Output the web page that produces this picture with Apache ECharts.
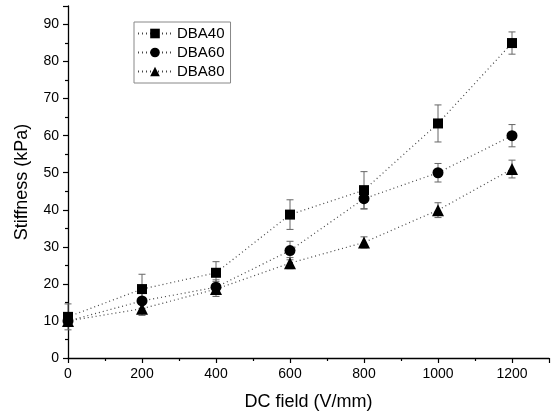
<!DOCTYPE html>
<html>
<head>
<meta charset="utf-8">
<script src="https://cdn.jsdelivr.net/npm/echarts@6/dist/echarts.min.js"></script>
<style>html,body{margin:0;padding:0;background:#fff}#c{width:553px;height:418px}</style>
</head>
<body>
<div id="c"></div>
<script>
const xValues = [0, 200, 400, 600, 800, 1000, 1200];
const dba40 = [11.1, 18.6, 23.0, 38.7, 45.3, 63.3, 85.0];
const err40 = [3.5, 4.0, 3.0, 4.0, 5.0, 5.0, 3.0];
const dba60 = [10.0, 15.4, 19.1, 29.0, 43.0, 50.0, 60.0];
const err60 = [1.5, 2.0, 2.0, 2.5, 2.8, 2.5, 3.0];
const dba80 = [10.0, 13.3, 18.6, 25.6, 31.2, 39.9, 51.0];
const err80 = [1.5, 1.8, 2.0, 1.5, 1.5, 2.0, 2.4];
const seriesNames = ['DBA40', 'DBA60', 'DBA80'];

const FONT = 'Liberation Sans, Arial, sans-serif';

function pts(vals) { return xValues.map((x, i) => [x, vals[i]]); }
function errData(vals, errs) { return xValues.map((x, i) => [x, vals[i] - errs[i], vals[i] + errs[i]]); }

function errRender(params, api) {
  const x = api.value(0);
  const lo = api.coord([x, api.value(1)]);
  const hi = api.coord([x, api.value(2)]);
  const hw = 3.5;
  const style = { stroke: '#666', lineWidth: 1, fill: null };
  return {
    type: 'group',
    children: [
      { type: 'line', shape: { x1: lo[0], y1: lo[1], x2: hi[0], y2: hi[1] }, style },
      { type: 'line', shape: { x1: lo[0] - hw, y1: lo[1], x2: lo[0] + hw, y2: lo[1] }, style },
      { type: 'line', shape: { x1: hi[0] - hw, y1: hi[1], x2: hi[0] + hw, y2: hi[1] }, style }
    ]
  };
}

const symbols = ['rect', 'circle', 'triangle'];
const sizes = [10, 11, 12];
const vals = [dba40, dba60, dba80];
const errs = [err40, err60, err80];

const series = [];
for (let k = 0; k < 3; k++) {
  series.push({
    type: 'custom',
    name: seriesNames[k] + '_err',
    renderItem: errRender,
    data: errData(vals[k], errs[k]),
    z: 1,
    silent: true
  });
}
for (let k = 0; k < 3; k++) {
  series.push({
    type: 'line',
    name: seriesNames[k],
    data: pts(vals[k]),
    symbol: symbols[k],
    symbolSize: sizes[k],
    showSymbol: true,
    itemStyle: { color: '#000' },
    lineStyle: { color: '#444', width: 1.2, type: [1, 3] },
    z: 3,
    animation: false
  });
}

const chart = echarts.init(document.getElementById('c'), null, { renderer: 'canvas' });
chart.setOption({
  animation: false,
  backgroundColor: '#fff',
  grid: { left: 68, right: 4, top: 6, bottom: 60, containLabel: false },
  legend: {
    data: seriesNames,
    orient: 'vertical',
    left: 134,
    top: 22,
    itemWidth: 34,
    itemHeight: 12,
    itemGap: 2,
    padding: [3, 6, 3, 3],
    borderColor: '#888',
    borderWidth: 1,
    textStyle: { fontFamily: FONT, fontSize: 15, color: '#000', lineHeight: 17 }
  },
  xAxis: {
    type: 'value',
    min: 0, max: 1300, interval: 200,
    name: 'DC field (V/mm)',
    nameLocation: 'middle',
    nameGap: 35,
    nameTextStyle: { fontFamily: FONT, fontSize: 18, color: '#000' },
    axisLine: { onZero: false, lineStyle: { color: '#000', width: 1.3 } },
    axisTick: { show: true, length: 5, lineStyle: { color: '#000', width: 1.2 } },
    minorTick: { show: true, splitNumber: 2, length: 3, lineStyle: { color: '#000', width: 1.2 } },
    axisLabel: { fontFamily: FONT, fontSize: 14, color: '#000', margin: 9, showMaxLabel: false, formatter: v => String(v) },
    splitLine: { show: false }
  },
  yAxis: {
    type: 'value',
    min: 0, max: 95, interval: 10,
    name: 'Stiffness (kPa)',
    nameLocation: 'middle',
    nameGap: 37,
    nameTextStyle: { fontFamily: FONT, fontSize: 18, color: '#000' },
    axisLine: { show: true, lineStyle: { color: '#000', width: 1.3 } },
    axisTick: { show: true, length: 5, lineStyle: { color: '#000', width: 1.2 } },
    minorTick: { show: true, splitNumber: 2, length: 3, lineStyle: { color: '#000', width: 1.2 } },
    axisLabel: { fontFamily: FONT, fontSize: 14, color: '#000', margin: 9, showMaxLabel: false, formatter: v => String(v) },
    splitLine: { show: false }
  },
  series: series
});
</script>
</body>
</html>
